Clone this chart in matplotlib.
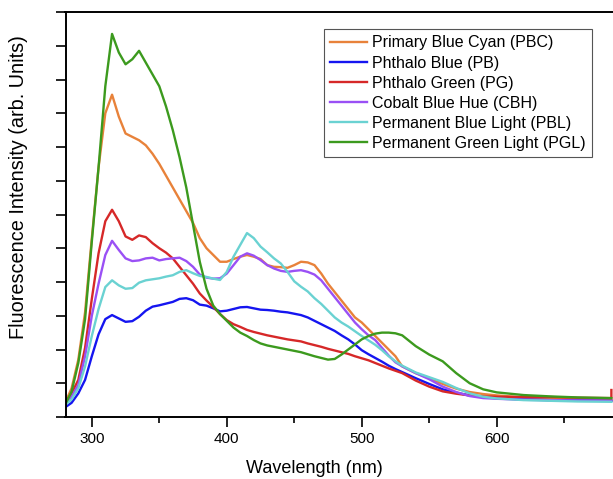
import numpy as np
import matplotlib
matplotlib.use('Agg')
import matplotlib.pyplot as plt
from matplotlib.ticker import MultipleLocator, NullFormatter

plt.rcParams['font.family'] = ['Liberation Sans', 'DejaVu Sans']

# wavelength grid (nm)
wl = [280, 285, 290, 295, 300, 305, 310, 315, 320, 325, 330, 335, 340, 345, 350, 355,
      360, 365, 370, 375, 380, 385, 390, 395, 400, 405, 410, 415, 420, 425, 430, 435,
      440, 445, 450, 455, 460, 465, 470, 475, 480, 485, 490, 495, 500, 505, 510, 515,
      520, 525, 530, 540, 550, 560, 570, 580, 590, 600, 620, 640, 660, 685]

# intensities in arbitrary units (one unit = one y tick)
pbc = [0.4, 0.85, 1.7, 3.1, 5.3, 7.4, 9.0, 9.55, 8.9, 8.4, 8.3, 8.2, 8.05, 7.8, 7.5, 7.15,
       6.8, 6.45, 6.1, 5.75, 5.3, 5.0, 4.8, 4.6, 4.6, 4.68, 4.75, 4.8, 4.75, 4.68, 4.5, 4.45,
       4.44, 4.42, 4.5, 4.6, 4.58, 4.5, 4.25, 3.95, 3.7, 3.45, 3.2, 2.95, 2.8, 2.6, 2.4, 2.2,
       2.0, 1.8, 1.5, 1.3, 1.15, 0.98, 0.84, 0.74, 0.68, 0.64, 0.58, 0.54, 0.52, 0.5]
pb = [0.28, 0.42, 0.7, 1.1, 1.8, 2.45, 2.9, 3.02, 2.92, 2.82, 2.84, 2.97, 3.15, 3.27, 3.31, 3.36,
      3.41, 3.5, 3.52, 3.46, 3.33, 3.3, 3.22, 3.13, 3.15, 3.2, 3.25, 3.26, 3.22, 3.18, 3.17, 3.15,
      3.12, 3.1, 3.06, 3.02, 2.95, 2.85, 2.75, 2.65, 2.55, 2.42, 2.3, 2.15, 1.98, 1.86, 1.75, 1.64,
      1.52, 1.42, 1.33, 1.15, 0.98, 0.82, 0.72, 0.64, 0.59, 0.56, 0.52, 0.5, 0.49, 0.48]
pg = [0.42, 0.7, 1.1, 2.05, 3.5, 4.85, 5.8, 6.14, 5.8, 5.35, 5.25, 5.38, 5.33, 5.15, 5.0, 4.87,
      4.7, 4.45, 4.2, 3.95, 3.66, 3.45, 3.26, 3.05, 2.87, 2.75, 2.67, 2.58, 2.52, 2.47, 2.42, 2.38,
      2.34, 2.3, 2.27, 2.24, 2.18, 2.13, 2.08, 2.02, 1.97, 1.92, 1.87, 1.8, 1.74, 1.68, 1.6, 1.52,
      1.44, 1.37, 1.3, 1.08, 0.9, 0.76, 0.69, 0.64, 0.61, 0.6, 0.59, 0.59, 0.57, 0.56]
cbh = [0.38, 0.6, 0.95, 1.8, 3.0, 3.95, 4.8, 5.22, 4.95, 4.7, 4.62, 4.64, 4.7, 4.72, 4.64, 4.68,
       4.7, 4.72, 4.62, 4.45, 4.22, 4.13, 4.1, 4.11, 4.25, 4.5, 4.75, 4.85, 4.78, 4.65, 4.5, 4.4,
       4.33, 4.3, 4.33, 4.35, 4.3, 4.22, 4.05, 3.8, 3.55, 3.3, 3.05, 2.8, 2.6, 2.42, 2.28, 2.05,
       1.82, 1.62, 1.5, 1.3, 1.12, 0.9, 0.74, 0.62, 0.56, 0.54, 0.51, 0.5, 0.49, 0.48]
pbl = [0.35, 0.52, 0.85, 1.5, 2.4, 3.2, 3.85, 4.05, 3.9, 3.8, 3.82, 3.98, 4.05, 4.08, 4.11, 4.16,
       4.2, 4.3, 4.35, 4.26, 4.18, 4.15, 4.1, 4.06, 4.3, 4.75, 5.1, 5.45, 5.3, 5.05, 4.88, 4.7,
       4.55, 4.3, 4.02, 3.86, 3.72, 3.52, 3.35, 3.15, 2.95, 2.8, 2.68, 2.54, 2.4, 2.27, 2.14, 1.98,
       1.8, 1.65, 1.52, 1.32, 1.18, 1.04, 0.86, 0.7, 0.6, 0.55, 0.5, 0.48, 0.46, 0.45]
pgl = [0.35, 0.75, 1.6, 2.9, 5.2, 7.4, 9.8, 11.35, 10.8, 10.45, 10.6, 10.85, 10.5, 10.15, 9.8, 9.2,
       8.5, 7.7, 6.8, 5.7, 4.6, 3.8, 3.3, 3.05, 2.85, 2.65, 2.5, 2.4, 2.28, 2.18, 2.12, 2.08,
       2.04, 2.0, 1.96, 1.92, 1.86, 1.8, 1.75, 1.7, 1.72, 1.85, 2.0, 2.15, 2.3, 2.4, 2.47, 2.5,
       2.5, 2.48, 2.42, 2.1, 1.85, 1.65, 1.3, 1.0, 0.82, 0.73, 0.65, 0.61, 0.58, 0.56]

labels = ['Primary Blue Cyan (PBC)', 'Phthalo Blue (PB)', 'Phthalo Green (PG)',
          'Cobalt Blue Hue (CBH)', 'Permanent Blue Light (PBL)', 'Permanent Green Light (PGL)']
colors = ['#e8823a', '#1515f0', '#d62828', '#9a50f5', '#6ad2d2', '#3c9a1e']
series = [pbc, pb, pg, cbh, pbl, pgl]

fig = plt.figure(figsize=(6.13, 4.79), dpi=100)
ax = fig.add_axes([65.5 / 613, 62 / 479, 1 - 65.5 / 613, 405 / 479])

for y, lab, c in zip(series, labels, colors):
    x = list(wl)
    yy = list(y)
    if lab.startswith('Phthalo Green'):
        # step at the end of the red trace
        x = x + [685]
        yy = yy + [0.8]
    ax.plot(x, yy, color=c, lw=1.7, label=lab)

ax.set_xlim(280.5, 686.2)
ax.set_ylim(0, 12)
ax.xaxis.set_major_locator(MultipleLocator(100))
ax.xaxis.set_minor_locator(MultipleLocator(50))
ax.yaxis.set_major_locator(MultipleLocator(1))
ax.yaxis.set_major_formatter(NullFormatter())
ax.tick_params(axis='x', which='major', direction='out', length=7, width=1.2, labelsize=11)
ax.tick_params(axis='x', which='minor', direction='out', length=4, width=1.2)
ax.tick_params(axis='y', direction='out', length=7, width=1.2)
ax.spines['right'].set_visible(False)
for s in ['left', 'bottom', 'top']:
    ax.spines[s].set_linewidth(1.4)

ax.set_xlabel('Wavelength (nm)', fontsize=13)
ax.xaxis.set_label_coords(0.454, -0.106)
ax.set_ylabel('Fluorescence Intensity (arb. Units)', fontsize=14.3)
ax.yaxis.set_label_coords(-0.068, 0.568)

leg = ax.legend(loc='upper right', bbox_to_anchor=(0.9616, 0.958), borderaxespad=0,
                fontsize=11.5, handlelength=2.3, handletextpad=0.3, labelspacing=0.32,
                fancybox=False, framealpha=1, edgecolor='#555555', borderpad=0.4)
leg.get_frame().set_linewidth(0.8)

fig.savefig('out.png', dpi=100)
